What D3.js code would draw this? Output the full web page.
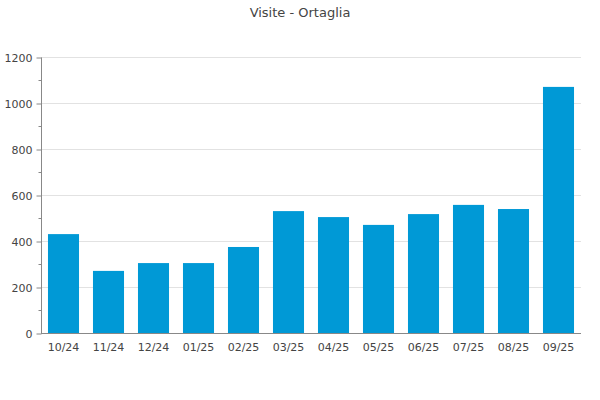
<!DOCTYPE html>
<html><head><meta charset="utf-8">
<script src="https://cdn.jsdelivr.net/npm/d3@7"></script>
<style>body{margin:0;background:#fff;font-family:"DejaVu Sans",sans-serif;}</style>
</head><body><svg id="c" width="600" height="400"></svg>
<script>
const categories = ["10/24","11/24","12/24","01/25","02/25","03/25","04/25","05/25","06/25","07/25","08/25","09/25"];
const visits = [430,270,304,304,374,530,504,470,517,557,539,1070];
const yTicks = [0,200,400,600,800,1000,1200];
const title = "Visite - Ortaglia";

const svg = d3.select("#c");
const m = {l:41, r:581, t:57, b:333};
const x = d3.scaleBand().domain(categories).range([m.l, m.r]).paddingInner(0.31).paddingOuter(0.155);
const y = d3.scaleLinear().domain([0,1200]).range([m.b, m.t]);

svg.append("text").attr("x",300).attr("y",17).attr("text-anchor","middle")
  .attr("font-size",13).attr("fill","#444").text(title);

// grid
svg.append("g").selectAll("line").data(yTicks.filter(d=>d>0)).join("line")
  .attr("x1",m.l).attr("x2",m.r).attr("y1",d=>y(d)+0.5).attr("y2",d=>y(d)+0.5)
  .attr("stroke","#e2e2e2");

// bars
svg.append("g").selectAll("rect").data(visits).join("rect")
  .attr("x",(d,i)=>x(categories[i])).attr("width",x.bandwidth())
  .attr("y",d=>y(d)).attr("height",d=>y(0)-y(d)).attr("fill","#0099d6");

// y axis
const ya = svg.append("g").attr("transform",`translate(${m.l+0.5},0.5)`)
  .call(d3.axisLeft(y).tickValues(yTicks).tickSize(5).tickPadding(4).tickFormat(d3.format("d")));
ya.selectAll("text").attr("font-size",11).attr("fill","#444").attr("font-family","DejaVu Sans");
ya.selectAll("line").attr("stroke","#888");
ya.select(".domain").attr("stroke","#888").attr("d",`M0,${m.t}V${m.b}`);
const minor = d3.range(100,1200,200);
ya.append("g").selectAll("line").data(minor).join("line")
  .attr("x1",-3).attr("x2",0).attr("y1",d=>y(d)).attr("y2",d=>y(d)).attr("stroke","#888");

// x axis
const xa = svg.append("g").attr("transform",`translate(0,${m.b+0.5})`)
  .call(d3.axisBottom(x).tickSize(0).tickPadding(10));
xa.selectAll("text").attr("font-size",11).attr("fill","#444").attr("font-family","DejaVu Sans");
xa.select(".domain").attr("stroke","#888").attr("d",`M${m.l},0H${m.r}`);
</script></body></html>
